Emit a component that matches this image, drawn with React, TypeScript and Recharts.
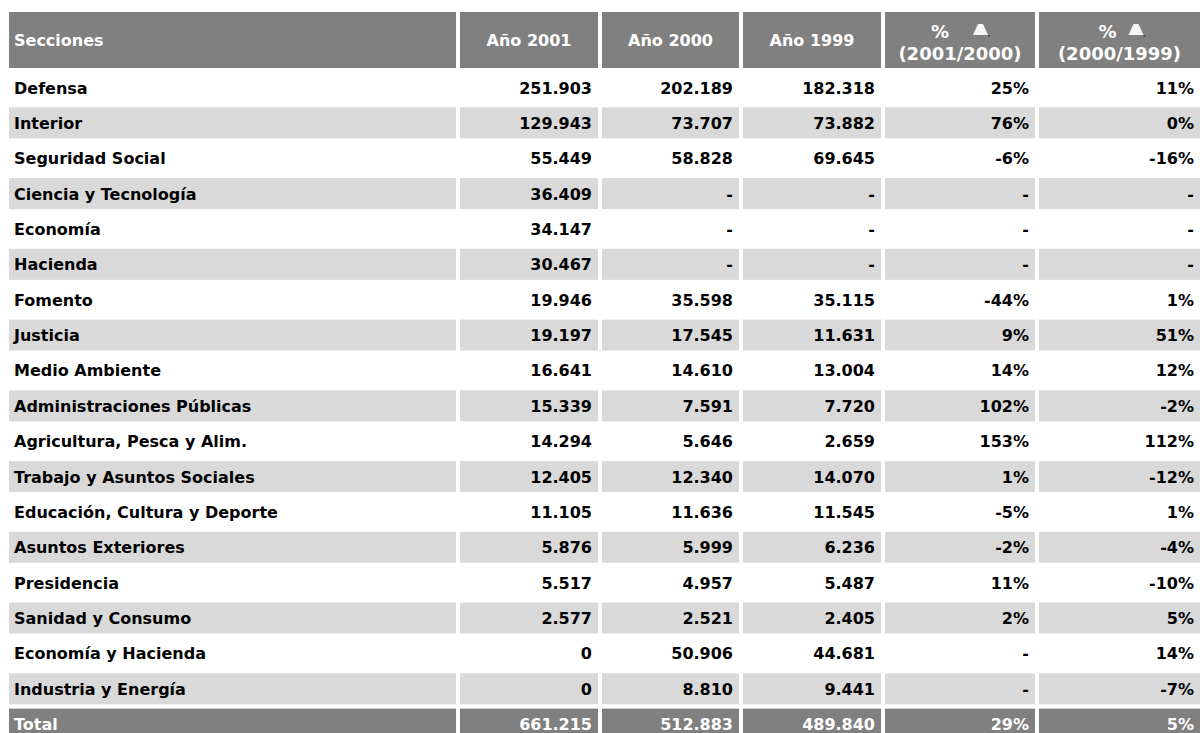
import React from "react";
import { BarChart, Bar, XAxis, YAxis, Customized } from "recharts";

// values (thousands of euros, % variation)
const sections = [
  "Defensa",
  "Interior",
  "Seguridad Social",
  "Ciencia y Tecnología",
  "Economía",
  "Hacienda",
  "Fomento",
  "Justicia",
  "Medio Ambiente",
  "Administraciones Públicas",
  "Agricultura, Pesca y Alim.",
  "Trabajo y Asuntos Sociales",
  "Educación, Cultura y Deporte",
  "Asuntos Exteriores",
  "Presidencia",
  "Sanidad y Consumo",
  "Economía y Hacienda",
  "Industria y Energía",
  "Total",
];

const year2001 = [251903, 129943, 55449, 36409, 34147, 30467, 19946, 19197, 16641, 15339, 14294, 12405, 11105, 5876, 5517, 2577, 0, 0, 661215];
const year2000 = [202189, 73707, 58828, null, null, null, 35598, 17545, 14610, 7591, 5646, 12340, 11636, 5999, 4957, 2521, 50906, 8810, 512883];
const year1999 = [182318, 73882, 69645, null, null, null, 35115, 11631, 13004, 7720, 2659, 14070, 11545, 6236, 5487, 2405, 44681, 9441, 489840];
const pct0100 = [25, 76, -6, null, null, null, -44, 9, 14, 102, 153, 1, -5, -2, 11, 2, null, null, 29];
const pct9900 = [11, 0, -16, null, null, null, 1, 51, 12, -2, 112, -12, 1, -4, -10, 5, 14, -7, 5];

const headers = ["Secciones", "Año 2001", "Año 2000", "Año 1999"];
const pctHeaders = ["(2001/2000)", "(2000/1999)"];

const rows = sections.map((name, i) => ({
  name,
  y2001: year2001[i],
  y2000: year2000[i],
  y1999: year1999[i],
  p1: pct0100[i],
  p2: pct9900[i],
}));

const FONT = 'Verdana, "DejaVu Sans", sans-serif';
const DARK = "#808080";
const LIGHT = "#d9d9d9";

const fmtNum = (v: number | null) =>
  v === null ? "-" : String(v).replace(/\B(?=(\d{3})+(?!\d))/g, ".");
const fmtPct = (v: number | null) => (v === null ? "-" : `${v}%`);

const columns = [
  { key: "name", x: 9, w: 447 },
  { key: "y2001", x: 460, w: 138 },
  { key: "y2000", x: 602, w: 137 },
  { key: "y1999", x: 743, w: 138 },
  { key: "p1", x: 885, w: 150 },
  { key: "p2", x: 1039, w: 161 },
];

function RowShape(props: any) {
  const { y, height, payload, index } = props;
  const last = index === rows.length - 1;
  const fill = last ? DARK : index % 2 === 1 ? LIGHT : null;
  const color = last ? "#ffffff" : "#000000";
  const base = y + height / 2 + 6;
  return (
    <g>
      {columns.map((c) => {
        const v = payload[c.key];
        let label: string;
        if (c.key === "name") label = v;
        else if (c.key === "p1" || c.key === "p2") label = fmtPct(v);
        else label = fmtNum(v);
        const left = c.key === "name";
        return (
          <g key={c.key}>
            {fill && <rect x={c.x} y={y} width={c.w} height={height} fill={fill} />}
            <text
              x={left ? c.x + 5 : c.x + c.w - 6}
              y={base}
              textAnchor={left ? "start" : "end"}
              fontFamily={FONT}
              fontWeight="bold"
              fontSize={16}
              fill={color}
            >
              {label}
            </text>
          </g>
        );
      })}
    </g>
  );
}

function Delta({ x, y }: { x: number; y: number }) {
  return (
    <g>
      <polygon
        points={`${x + 5},${y} ${x + 10},${y} ${x + 15},${y + 11} ${x},${y + 11}`}
        fill="#f6f6f6"
      />
      <rect x={x + 15} y={y + 11} width={2} height={2} fill="#555" />
    </g>
  );
}

function Header() {
  const top = 12;
  const h = 56;
  const pctLayout = [
    { pct: -20, icon: 13 },
    { pct: -12, icon: 9 },
  ];
  return (
    <g fontFamily={FONT} fontWeight="bold" fill="#ffffff">
      {columns.map((c, i) => {
        const cx = c.x + c.w / 2;
        return (
          <g key={c.key}>
            <rect x={c.x} y={top} width={c.w} height={h} fill={DARK} />
            {i < 4 ? (
              <text
                x={i === 0 ? c.x + 5 : cx}
                y={top + 34}
                textAnchor={i === 0 ? "start" : "middle"}
                fontSize={16}
                fill="#ffffff"
              >
                {headers[i]}
              </text>
            ) : (
              <g>
                <text x={cx + pctLayout[i - 4].pct} y={top + 26} textAnchor="middle" fontSize={18} fill="#ffffff">
                  %
                </text>
                <Delta x={cx + pctLayout[i - 4].icon} y={top + 12} />
                <text x={cx} y={top + 48} textAnchor="middle" fontSize={18} fill="#ffffff">
                  {pctHeaders[i - 4]}
                </text>
              </g>
            )}
          </g>
        );
      })}
    </g>
  );
}

export default function App() {
  return (
    <div
      style={{
        position: "absolute",
        left: 0,
        top: 0,
        width: 1202,
        height: 733,
        overflow: "hidden",
        background: "#ffffff",
      }}
    >
      <BarChart
        width={1202}
        height={742}
        data={rows}
        layout="vertical"
        margin={{ top: 70, right: 0, bottom: 0, left: 0 }}
        barCategoryGap={2}
      >
        <XAxis type="number" hide domain={[0, 1]} />
        <YAxis type="category" dataKey="name" hide />
        <Bar dataKey={() => 1} isAnimationActive={false} shape={RowShape} />
        <Customized component={Header} />
      </BarChart>
    </div>
  );
}
